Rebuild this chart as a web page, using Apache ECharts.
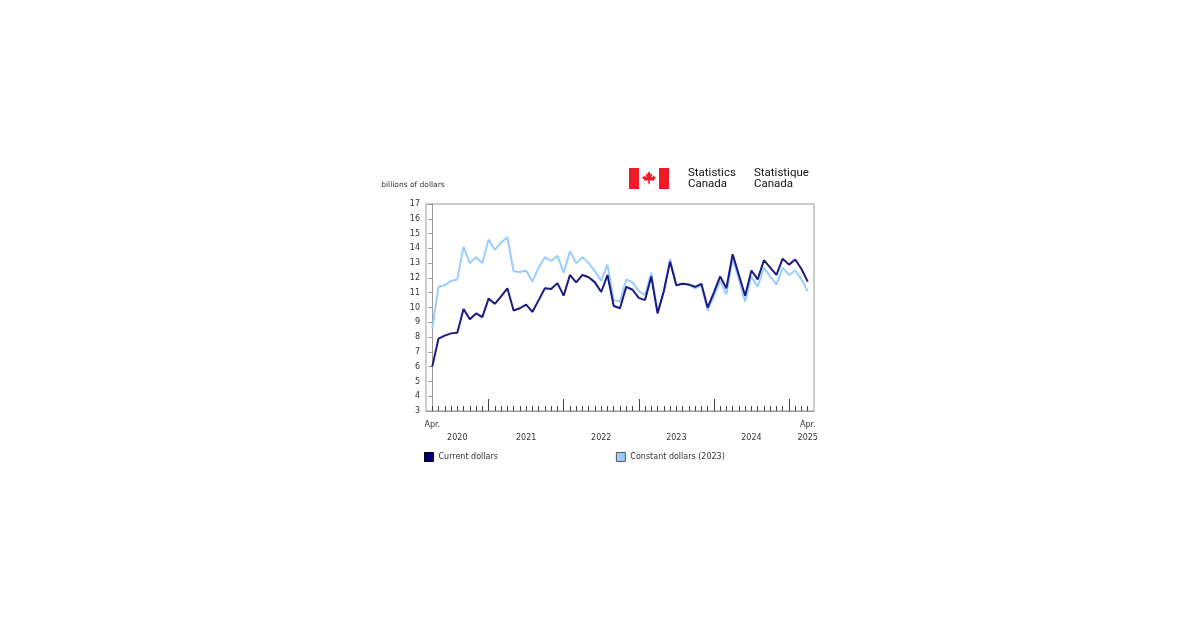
<!DOCTYPE html>
<html><head><meta charset="utf-8">
<script src="https://cdn.jsdelivr.net/npm/echarts@6/dist/echarts.min.js"></script>
<style>html,body{margin:0;background:#fff}#c{width:1200px;height:630px}</style>
</head><body><div id="c"></div>
<script>
const months = ["Apr 2020","May 2020","Jun 2020","Jul 2020","Aug 2020","Sep 2020","Oct 2020","Nov 2020","Dec 2020",
"Jan 2021","Feb 2021","Mar 2021","Apr 2021","May 2021","Jun 2021","Jul 2021","Aug 2021","Sep 2021","Oct 2021","Nov 2021","Dec 2021",
"Jan 2022","Feb 2022","Mar 2022","Apr 2022","May 2022","Jun 2022","Jul 2022","Aug 2022","Sep 2022","Oct 2022","Nov 2022","Dec 2022",
"Jan 2023","Feb 2023","Mar 2023","Apr 2023","May 2023","Jun 2023","Jul 2023","Aug 2023","Sep 2023","Oct 2023","Nov 2023","Dec 2023",
"Jan 2024","Feb 2024","Mar 2024","Apr 2024","May 2024","Jun 2024","Jul 2024","Aug 2024","Sep 2024","Oct 2024","Nov 2024","Dec 2024",
"Jan 2025","Feb 2025","Mar 2025","Apr 2025"];
const currentDollars = [6.0,7.9,8.1,8.25,8.3,9.9,9.2,9.6,9.35,
10.6,10.25,10.75,11.3,9.8,9.95,10.2,9.7,10.5,11.3,11.25,11.65,
10.8,12.2,11.7,12.2,12.05,11.7,11.05,12.2,10.1,9.95,11.4,11.2,
10.65,10.5,12.1,9.6,11.1,13.1,11.5,11.6,11.55,11.4,11.6,10.0,
11.0,12.1,11.3,13.6,12.2,10.8,12.5,11.9,13.2,12.7,12.2,13.3,
12.9,13.25,12.6,11.75];
const constantDollars = [8.6,11.4,11.5,11.8,11.9,14.1,13.0,13.4,13.0,
14.6,13.9,14.4,14.75,12.45,12.4,12.5,11.75,12.7,13.4,13.15,13.5,
12.35,13.8,13.0,13.4,13.0,12.45,11.8,12.9,10.5,10.4,11.9,11.7,
11.1,10.85,12.35,9.7,11.1,13.3,11.5,11.6,11.55,11.3,11.5,9.8,
10.75,11.8,10.9,13.3,11.9,10.4,12.1,11.4,12.7,12.1,11.55,12.7,
12.2,12.5,11.9,11.1];
const xLabels = {0:"Apr.",4:"\n2020",15:"\n2021",27:"\n2022",39:"\n2023",51:"\n2024",60:"Apr.\n2025"};
const F = "DejaVu Sans";
const chart = echarts.init(document.getElementById('c'));
const minorTicks = months.map((m,i)=>i);
const majorTicks = months.map((m,i)=>i).filter(i=>months[i].startsWith("Jan"));
const leafPts = [[0,-10],[2,-6],[4,-7],[3,-2],[7,-5],[6,-3],[9,-2],[6,1],[7,2],[1,2],[1,6],[-1,6],[-1,2],[-7,2],[-6,1],[-9,-2],[-6,-3],[-7,-5],[-3,-2],[-4,-7],[-2,-6]];
chart.setOption({
  animation:false,
  textStyle:{fontFamily:F},
  grid:{left:426,right:386,top:204,bottom:219},
  legend:{left:419,top:447,itemGap:118,itemWidth:9,itemHeight:9,icon:'rect',
    textStyle:{fontFamily:F,fontSize:8,color:'#333'},
    data:[{name:'Current dollars',itemStyle:{color:'#000080',borderColor:'#000',borderWidth:1}},
          {name:'Constant dollars (2023)',itemStyle:{color:'#99ccff',borderColor:'#555',borderWidth:1}}]},
  xAxis:[
    {type:'value',min:-1,max:61,
     axisLine:{lineStyle:{color:'#999',width:1}},
     axisTick:{inside:true,length:5,lineStyle:{color:'#444'},customValues:minorTicks},
     axisLabel:{customValues:Object.keys(xLabels).map(Number),formatter:v=>xLabels[v]||'',
       fontSize:8,color:'#333',fontFamily:F,margin:7,lineHeight:13},
     splitLine:{show:false}},
    {type:'value',min:-1,max:61,position:'bottom',
     axisLine:{show:false},
     axisTick:{inside:true,length:12,lineStyle:{color:'#444'},customValues:majorTicks},
     axisLabel:{show:false},splitLine:{show:false}}
  ],
  yAxis:{type:'value',min:3,max:17,interval:1,
    axisLine:{show:true,lineStyle:{color:'#999'}},
    axisTick:{show:true,length:4,lineStyle:{color:'#999'}},
    axisLabel:{fontSize:8,color:'#333',fontFamily:F,margin:6},
    splitLine:{show:false},
    name:'billions of dollars',nameLocation:'end',nameGap:15,
    nameTextStyle:{fontSize:7.5,color:'#333',fontFamily:F,align:'left',padding:[0,0,0,-51]}},
  graphic:[
    {type:'rect',shape:{x:426,y:204,width:388,height:207},style:{fill:'none',stroke:'#999',lineWidth:1},silent:true},
    {type:'rect',shape:{x:629,y:168,width:10,height:21},style:{fill:'#ed1c24'}},
    {type:'rect',shape:{x:659,y:168,width:10,height:21},style:{fill:'#ed1c24'}},
    {type:'polygon',shape:{points:leafPts.map(p=>[649+p[0]*0.8,179+p[1]*0.8])},style:{fill:'#ed1c24'}},
    {type:'text',left:688,top:167,style:{text:'Statistics\nCanada',font:'11.5px Roboto',fill:'#111',lineHeight:11}},
    {type:'text',left:754,top:167,style:{text:'Statistique\nCanada',font:'11.5px Roboto',fill:'#111',lineHeight:11}}
  ],
  series:[
    {name:'Constant dollars (2023)',type:'line',symbol:'none',xAxisIndex:0,
     data:constantDollars.map((v,i)=>[i,v]),lineStyle:{color:'#99ccff',width:2},itemStyle:{color:'#99ccff'}},
    {name:'Current dollars',type:'line',symbol:'none',xAxisIndex:0,
     data:currentDollars.map((v,i)=>[i,v]),lineStyle:{color:'#1a1a80',width:2},itemStyle:{color:'#000080'}}
  ]
});
</script></body></html>
